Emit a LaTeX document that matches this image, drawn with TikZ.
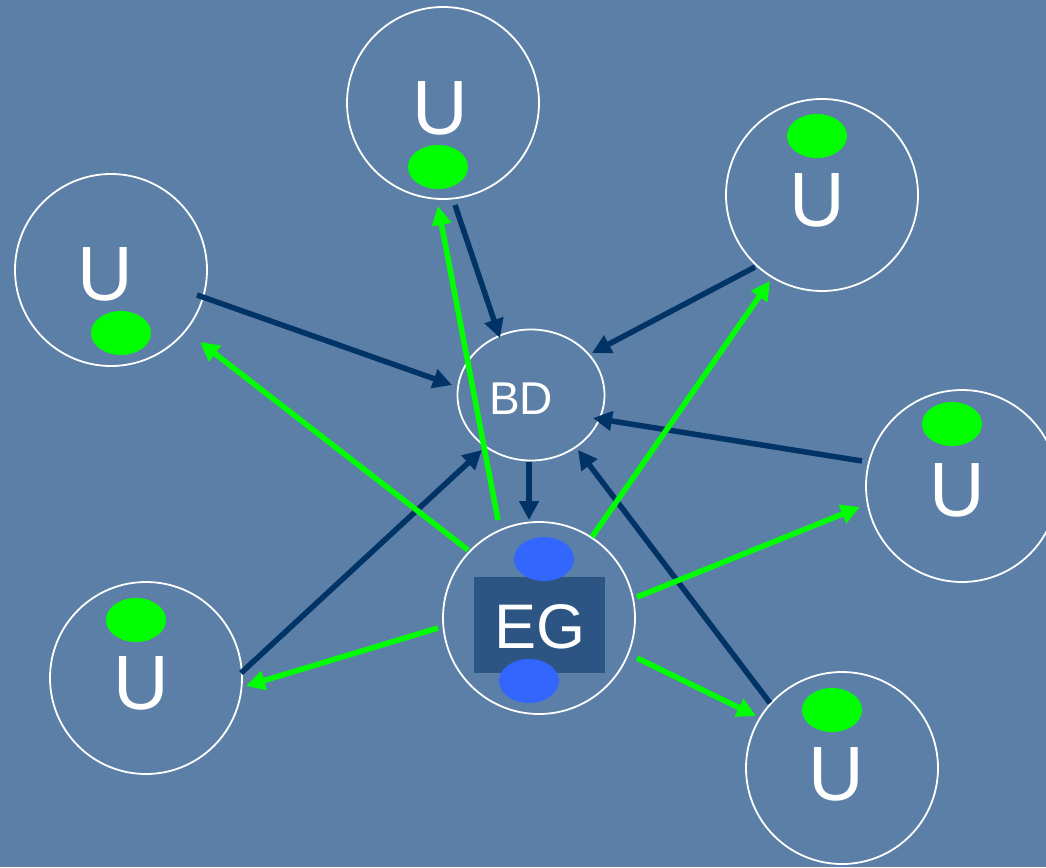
\documentclass[tikz,border=0pt]{standalone}
\usepackage{fontspec}
\setmainfont{Liberation Sans}
\usetikzlibrary{arrows.meta,calc,shapes.geometric}
\definecolor{bgblue}{RGB}{92,127,168}
\definecolor{navy}{RGB}{0,51,102}
\definecolor{brightgreen}{RGB}{0,255,0}
\definecolor{egbox}{RGB}{44,85,132}
\definecolor{dotblue}{RGB}{51,102,255}
\tikzset{
  ucircle/.style={circle,draw=white,line width=1.8pt,minimum size=192pt,inner sep=0pt},
  bdell/.style={ellipse,draw=white,line width=1.8pt,minimum width=147pt,minimum height=131pt,inner sep=0pt},
  utext/.style={text=white,font=\fontsize{77}{77}\selectfont,inner sep=0pt},
  greendot/.style={ellipse,fill=brightgreen,minimum width=60pt,minimum height=44pt,inner sep=0pt},
  bluedot/.style={ellipse,fill=dotblue,minimum width=60pt,minimum height=44pt,inner sep=0pt},
  navyarrow/.style={draw=navy,line width=5.5pt,-{Triangle[length=19pt,width=19pt]}},
  greenarrow/.style={draw=brightgreen,line width=5.5pt,-{Triangle[length=19pt,width=19pt]}},
}
\begin{document}
\begin{tikzpicture}[x=1pt,y=-1pt]
\fill[bgblue] (0,0) rectangle (1046,867);
\useasboundingbox (0,0) rectangle (1046,867);
% nodes
\node[ucircle] (ut) at (443,103) {};
\node[ucircle] (ul) at (111,270) {};
\node[ucircle] (utr) at (822,195) {};
\node[ucircle] (ur) at (962,486) {};
\node[ucircle] (ubl) at (146,678) {};
\node[ucircle] (ubr) at (842,768) {};
\node[bdell] (bd) at (531,395) {};
\node[ucircle] (eg) at (539,618) {};
% EG contents
\node[fill=egbox,minimum width=131pt,minimum height=96pt,inner sep=0pt] (egbox) at (539.5,625) {};
\node[bluedot] (egdot1) at (544,559) {};
\node[bluedot] (egdot2) at (529,681) {};
\node[text=white,font=\fontsize{63}{63}\selectfont,inner sep=0pt] (egtext) at (540,627) {EG};
% labels
\node[text=white,font=\fontsize{46}{46}\selectfont,inner sep=0pt] (bdtext) at (521,399) {BD};
\node[utext] (uttext) at (440,108) {U};
\node[greendot] (utdot) at (438,167) {};
\node[utext] (ultext) at (105,274) {U};
\node[greendot] (uldot) at (121,333) {};
\node[greendot] (utrdot) at (817,136) {};
\node[utext] (utrtext) at (817,200) {U};
\node[greendot] (urdot) at (952,424) {};
\node[utext] (urtext) at (957,490) {U};
\node[greendot] (ubldot) at (136,620) {};
\node[utext] (ubltext) at (141,683) {U};
\node[greendot] (ubrdot) at (832,710) {};
\node[utext] (ubrtext) at (836,774) {U};
% navy arrows to BD
\draw[navyarrow] ($(ul)+(86,25)$) -- ($(bd)+(-79,-10)$);
\draw[navyarrow] ($(ut)+(12,102)$) -- ($(bd)+(-31,-57)$);
\draw[navyarrow] ($(utr)+(-67,72)$) -- ($(bd)+(61,-42)$);
\draw[navyarrow] ($(ur)+(-100,-25)$) -- ($(bd)+(62,23)$);
\draw[navyarrow] ($(ubl)+(95,-5)$) -- ($(bd)+(-49,55)$);
\draw[navyarrow] ($(ubr)+(-72,-65)$) -- ($(bd)+(47,55)$);
\draw[navyarrow] ($(bd)+(-2,67)$) -- ($(eg)+(-10,-98)$);
% green arrows from EG
\draw[greenarrow] ($(eg)+(-41,-98)$) -- ($(ut)+(-5,103)$);
\draw[greenarrow] ($(eg)+(-71,-68)$) -- ($(ul)+(89,72)$);
\draw[greenarrow] ($(eg)+(53,-81)$) -- ($(utr)+(-52,86)$);
\draw[greenarrow] ($(eg)+(98,-21)$) -- ($(ur)+(-102,21)$);
\draw[greenarrow] ($(eg)+(-101,10)$) -- ($(ubl)+(100,8)$);
\draw[greenarrow] ($(eg)+(98,40)$) -- ($(ubr)+(-86,-52)$);
\end{tikzpicture}
\end{document}
